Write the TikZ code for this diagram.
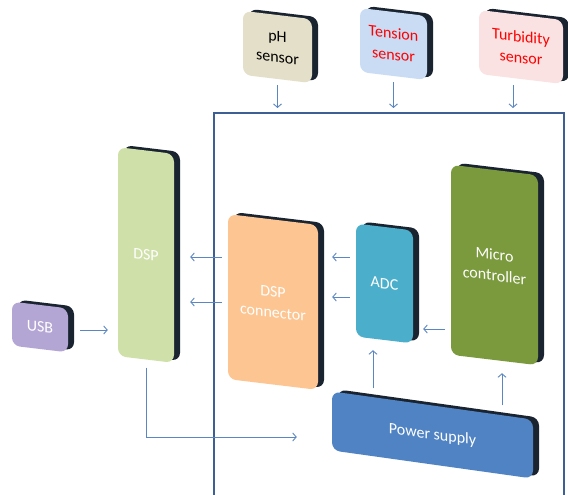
\documentclass[tikz,border=0pt]{standalone}
\usepackage{fontspec}
\setmainfont{Carlito}
\usetikzlibrary{arrows.meta,calc}
\definecolor{phc}{HTML}{E4DFC8}
\definecolor{tensc}{HTML}{C9DCF3}
\definecolor{turbc}{HTML}{FAE2E2}
\definecolor{dspc}{HTML}{CFE0A8}
\definecolor{usbc}{HTML}{B4A6D4}
\definecolor{conc}{HTML}{FCC591}
\definecolor{adcc}{HTML}{4BAFCB}
\definecolor{mcc}{HTML}{7A9A3D}
\definecolor{pwc}{HTML}{5083C4}
\definecolor{shdc}{HTML}{1A2431}
\definecolor{linec}{HTML}{5A86C2}
\definecolor{framec}{HTML}{3D5F93}
\newcommand\drawblk[9][-0.12]{%
  \node[shd, yslant=#1, minimum width=#5, minimum height=#6] (#2-s) at (#3+6,#4-2) {};
  \node[blk, yslant=#1, minimum width=#5, minimum height=#6, fill=#7, text=#8] (#2) at (#3,#4) {#9};
}
\begin{document}
\begin{tikzpicture}[x=1pt,y=-1pt,
  blk/.style={rounded corners=8pt, inner sep=0pt, align=center,
    font=\fontsize{16}{21}\selectfont},
  shd/.style={rounded corners=8pt, inner sep=0pt, fill=shdc},
  arr/.style={draw=linec, line width=0.9pt, -{Straight Barb[length=3.5pt,width=8pt]}},
  frame/.style={draw=framec, line width=1.4pt}]
\useasboundingbox[fill=white] (0,0) rectangle (568,495);
% frame
\coordinate (fBL) at (214,495);
\coordinate (fTL) at (214,113);
\coordinate (fTR) at (564,113);
\coordinate (fBR) at (564,495);
\draw[frame] (fBL) -- (fTL) -- (fTR) -- (fBR);
% blocks
\drawblk{ph}{277.5}{47}{69}{64}{phc}{black}{pH\\sensor}
\drawblk{ten}{393.5}{44}{67}{64}{tensc}{red}{Tension\\sensor}
\drawblk{tur}{521}{47}{84}{64}{turbc}{red}{Turbidity\\sensor}
\drawblk{dsp}{146}{255}{56}{209}{dspc}{white}{DSP}
\drawblk{usb}{40}{327}{56}{44}{usbc}{white}{USB}
\drawblk{con}{273}{302}{90}{165}{conc}{white}{DSP\\connector}
\drawblk{adc}{384.5}{283.5}{57}{113}{adcc}{white}{ADC}
\drawblk{mc}{494.5}{265}{87}{190}{mcc}{white}{Micro\\controller}
\drawblk[-0.14]{pw}{432.5}{435}{201}{59}{pwc}{white}{Power supply}
% connectors
\draw[arr, shorten <=6pt, shorten >=5pt] (ph.south) -- (ph.south |- fTL);
\draw[arr, shorten <=6pt, shorten >=5pt] (ten.south) -- (ten.south |- fTL);
\draw[arr, shorten <=6pt, shorten >=5pt] ([xshift=-8pt]tur.south) -- ([xshift=-8pt]tur.south |- fTL);
\draw[arr] ([xshift=12pt]usb.east |- 0,330) -- ([xshift=-10pt]dsp.west |- 0,330);
\draw[arr] ([xshift=-6pt]con.west |- 0,257) -- ([xshift=16pt]dsp.east |- 0,257);
\draw[arr] ([xshift=-6pt]con.west |- 0,302) -- ([xshift=16pt]dsp.east |- 0,302);
\draw[arr] ([xshift=-6pt]adc.west |- 0,257) -- ([xshift=14pt]con.east |- 0,257);
\draw[arr] ([xshift=-6pt]adc.west |- 0,297) -- ([xshift=14pt]con.east |- 0,297);
\draw[arr] ([xshift=-6pt]mc.west |- 0,329) -- ([xshift=10pt]adc.east |- 0,329);
\draw[arr] ([yshift=17pt]pw.north -| 373,0) -- ([yshift=-10pt]adc.south -| 373,0);
\draw[arr] ([yshift=0pt]pw.north -| 502,0) -- ([yshift=-13pt]mc.south -| 502,0);
\draw[arr] ([yshift=-8pt]dsp.south) |- ([xshift=-35pt]pw.west |- 0,437);
\end{tikzpicture}
\end{document}
